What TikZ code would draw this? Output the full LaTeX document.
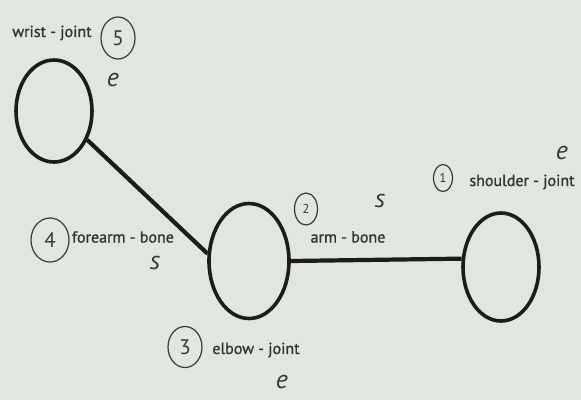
\documentclass[tikz,border=0pt]{standalone}
\usepackage{fontspec}
\setmainfont{PT Sans}
\newfontfamily\labfont{PT Sans}[FakeBold=1.2]
\usepackage{tikz}
\usetikzlibrary{shapes.geometric,positioning}
\definecolor{paper}{RGB}{226,230,224}
\definecolor{ink}{RGB}{28,28,28}
\definecolor{pencil}{RGB}{55,57,55}
\definecolor{print}{RGB}{50,52,50}

\begin{document}
\begin{tikzpicture}[x=1pt, y=-1pt,
        joint/.style={draw=ink, ellipse, line width=3.6pt, inner sep=0pt},
        bone/.style={draw=ink, line width=4.2pt},
        lab/.style={text=print, font=\labfont\fontsize{16}{18}\selectfont, inner sep=0pt},
        num/.style={draw=pencil, ellipse, line width=1.2pt, text=pencil, inner sep=0pt,
            minimum width=34pt, minimum height=42pt, font=\fontsize{21}{23}\selectfont},
        hand/.style={text=pencil, inner sep=0pt, font=\fontsize{26}{28}\selectfont\itshape}
    ]
        % fond
        \fill[paper] (0,0) rectangle (581,400);
        \useasboundingbox (0,0) rectangle (581,400);
        % articulations
        \node (wrist)    [joint, minimum width=76pt, minimum height=102pt] at (54,111)  {};
        \node (elbow)    [joint, minimum width=80pt, minimum height=115pt] at (249,261) {};
        \node (shoulder) [joint, minimum width=76pt, minimum height=108pt] at (501,267) {};
        % os
        \draw[bone] (wrist.-41) -- (elbow.170);
        \draw[bone] (elbow.east) -- (shoulder.168);
        % etiquettes
        \node (lwrist)    [lab] at (52,33)   {wrist - joint};
        \node (lforearm)  [lab] at (123,237) {forearm - bone};
        \node (lelbow)    [lab] at (256,350) {elbow - joint};
        \node (larm)      [lab] at (348,237) {arm - bone};
        \node (lshoulder) [lab] at (522,182) {shoulder - joint};
        % notes au crayon
        \node (n5) [num] at (118,38)  {5};
        \node (n4) [num, minimum width=38pt, minimum height=44pt] at (50,240) {4};
        \node (n3) [num, minimum width=34pt, minimum height=41pt] at (185,347) {3};
        \node (n2) [num, minimum width=23pt, minimum height=32pt, font=\fontsize{13}{15}\selectfont] at (306,209) {2};
        \node (n1) [num, minimum width=19pt, minimum height=27pt, font=\fontsize{13}{15}\selectfont] at (443,178) {1};
        \node (e5) [hand] at (113,80)  {e};
        \node (s4) [hand] at (155,263) {s};
        \node (e3) [hand] at (282,382) {e};
        \node (s2) [hand] at (380,201) {s};
        \node (e1) [hand] at (562,153) {e};
    \end{tikzpicture}
\end{document}
